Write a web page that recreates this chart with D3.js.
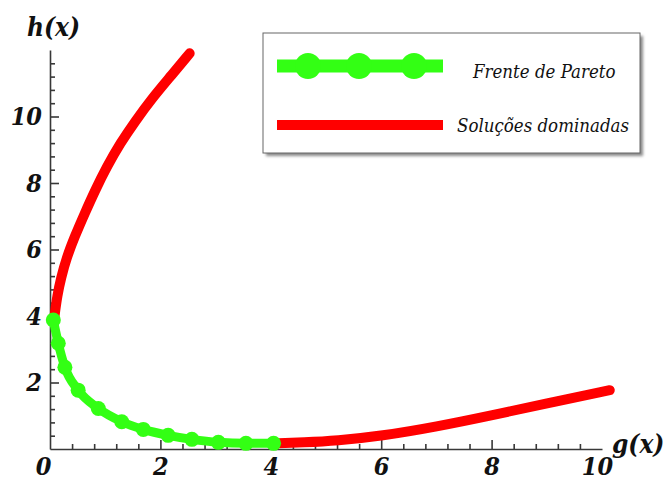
<!DOCTYPE html>
<html>
<head>
<meta charset="utf-8">
<script src="https://cdn.jsdelivr.net/npm/d3@7/dist/d3.min.js"></script>
<style>
  html, body { margin: 0; padding: 0; background: #fff; }
  svg { display: block; }
  .serif { font-family: "DejaVu Serif Condensed", "DejaVu Serif", serif; font-stretch: condensed; }
</style>
</head>
<body>
<svg id="chart" width="668" height="482"></svg>
<script>
// ---- data ----
const frontG = [0.06, 0.15, 0.27, 0.51, 0.875, 1.30, 1.69, 2.14, 2.57, 3.05, 3.55, 4.05];
const frontH = [3.88, 3.18, 2.46, 1.77, 1.22, 0.82, 0.59, 0.41, 0.29, 0.20, 0.17, 0.17];

const domUpperG = [0.07, 0.09, 0.13, 0.20, 0.30, 0.45, 0.63, 0.82, 1.03, 1.27, 1.54, 1.85, 2.18, 2.53];
const domUpperH = [3.85, 4.10, 4.60, 5.15, 5.75, 6.40, 7.09, 7.79, 8.49, 9.19, 9.85, 10.55, 11.2, 11.9];

const domLowerG = [4.05, 4.6, 5.19, 6.0, 7.0, 8.02, 9.0, 10.14];
const domLowerH = [0.17, 0.20, 0.25, 0.39, 0.67, 1.02, 1.37, 1.77];

const xMajorTicks = [0, 2, 4, 6, 8, 10];
const yMajorTicks = [2, 4, 6, 8, 10];
const xTickLabels = ["0", "2", "4", "6", "8", "10"];
const yTickLabels = ["2", "4", "6", "8", "10"];
const legendLabels = ["Frente de Pareto", "Soluções dominadas"];
const axisLabels = ["g(x)", "h(x)"];

// ---- layout ----
const svg = d3.select("#chart");
const ox = 50, oy = 449;
const x = d3.scaleLinear().domain([0, 10]).range([ox, 602]);
const y = d3.scaleLinear().domain([0, 12]).range([oy, 50]);

const GREEN = "#33ff14";
const RED = "#ff0000";
const AXIS = "#383838";

svg.append("rect").attr("width", 668).attr("height", 482).attr("fill", "#fff");

const defs = svg.append("defs");
const f = defs.append("filter").attr("id", "shadow").attr("x", "-10%").attr("y", "-10%").attr("width", "130%").attr("height", "130%");
f.append("feGaussianBlur").attr("stdDeviation", 1.6);

// minor ticks
const xMinor = d3.range(0, 10.001, 0.4).filter(v => !xMajorTicks.some(m => Math.abs(m - v) < 1e-6));
const yMinor = d3.range(0.4, 12.001, 0.4).filter(v => !yMajorTicks.some(m => Math.abs(m - v) < 1e-6) && v < 11.99);

function styleAxis(g, size) {
  g.attr("font-family", null);
  g.selectAll("path, line").attr("stroke", AXIS).attr("stroke-width", 1.6);
  g.selectAll("text")
    .attr("class", "serif")
    .attr("fill", "#111")
    .style("font-weight", "bold")
    .style("font-style", "italic")
    .style("font-size", size + "px");
}

// x axis
const gx = svg.append("g").attr("transform", `translate(0,${oy})`);
gx.call(d3.axisBottom(x).tickValues(xMinor).tickSize(-5).tickSizeOuter(0).tickFormat(""));
const gxMaj = svg.append("g").attr("transform", `translate(0,${oy})`)
  .call(d3.axisBottom(x).tickValues(xMajorTicks).tickSize(-9).tickSizeOuter(0).tickPadding(8)
    .tickFormat((d, i) => xTickLabels[i]));
gxMaj.select(".domain").remove();
gxMaj.selectAll(".tick").filter(d => d === 0 || d === 10).select("line").remove();
gxMaj.selectAll(".tick").filter(d => d === 0).select("text").attr("dx", -7);
gxMaj.selectAll(".tick").filter(d => d === 10).select("text").attr("dx", -5);
styleAxis(gx, 25); styleAxis(gxMaj, 25);

// y axis
const gy = svg.append("g").attr("transform", `translate(${ox},0)`);
gy.call(d3.axisLeft(y).tickValues(yMinor).tickSize(-5).tickSizeOuter(0).tickFormat(""));
const gyMaj = svg.append("g").attr("transform", `translate(${ox},0)`)
  .call(d3.axisLeft(y).tickValues(yMajorTicks).tickSize(-9).tickSizeOuter(0).tickPadding(8)
    .tickFormat((d, i) => yTickLabels[i]));
gyMaj.select(".domain").remove();
styleAxis(gy, 25); styleAxis(gyMaj, 25);

// axis titles
const titleStyle = s => s.attr("class", "serif").style("font-weight", "bold")
  .style("font-style", "italic").style("font-size", "26px").attr("fill", "#111");
svg.append("text").attr("x", 612).attr("y", 453).text(axisLabels[0]).call(titleStyle);
svg.append("text").attr("x", 27).attr("y", 36).text(axisLabels[1]).call(titleStyle);

// curves
const upper = domUpperG.map((g, i) => [g, domUpperH[i]]);
const lower = domLowerG.map((g, i) => [g, domLowerH[i]]);
const front = frontG.map((g, i) => [g, frontH[i]]);
const lineSmooth = d3.line().x(d => x(d[0])).y(d => y(d[1])).curve(d3.curveBasis);
const lineX = d3.line().x(d => x(d[0])).y(d => y(d[1])).curve(d3.curveMonotoneX);

svg.append("path").datum(upper).attr("d", lineSmooth).attr("fill", "none")
  .attr("stroke", RED).attr("stroke-width", 10).attr("stroke-linecap", "round");
svg.append("path").datum(lower).attr("d", lineSmooth).attr("fill", "none")
  .attr("stroke", RED).attr("stroke-width", 10).attr("stroke-linecap", "round");
svg.append("path").datum(front).attr("d", lineX).attr("fill", "none")
  .attr("stroke", GREEN).attr("stroke-width", 9).attr("stroke-linecap", "round");
svg.append("g").selectAll("circle").data(front).join("circle")
  .attr("cx", d => x(d[0])).attr("cy", d => y(d[1])).attr("r", 7.5).attr("fill", GREEN);

// legend
const lg = svg.append("g");
lg.append("rect").attr("x", 266).attr("y", 36).attr("width", 377).attr("height", 120)
  .attr("fill", "#8a8a8a").attr("filter", "url(#shadow)");
lg.append("rect").attr("x", 263).attr("y", 33).attr("width", 377).attr("height", 120)
  .attr("fill", "#fff").attr("stroke", "#666").attr("stroke-width", 1);
lg.append("line").attr("x1", 277).attr("x2", 443).attr("y1", 66).attr("y2", 66)
  .attr("stroke", GREEN).attr("stroke-width", 13);
lg.selectAll("circle.lgc").data([308, 359, 414]).join("circle").attr("class", "lgc")
  .attr("cx", d => d).attr("cy", 66).attr("r", 13).attr("fill", GREEN);
lg.append("line").attr("x1", 277).attr("x2", 443).attr("y1", 125).attr("y2", 125)
  .attr("stroke", RED).attr("stroke-width", 10);
const legStyle = s => s.attr("class", "serif").style("font-style", "italic")
  .style("font-size", "18.5px").attr("fill", "#111");
lg.append("text").attr("x", 473).attr("y", 78).text(legendLabels[0]).call(legStyle);
lg.append("text").attr("x", 457).attr("y", 132).text(legendLabels[1]).call(legStyle);
</script>
</body>
</html>
